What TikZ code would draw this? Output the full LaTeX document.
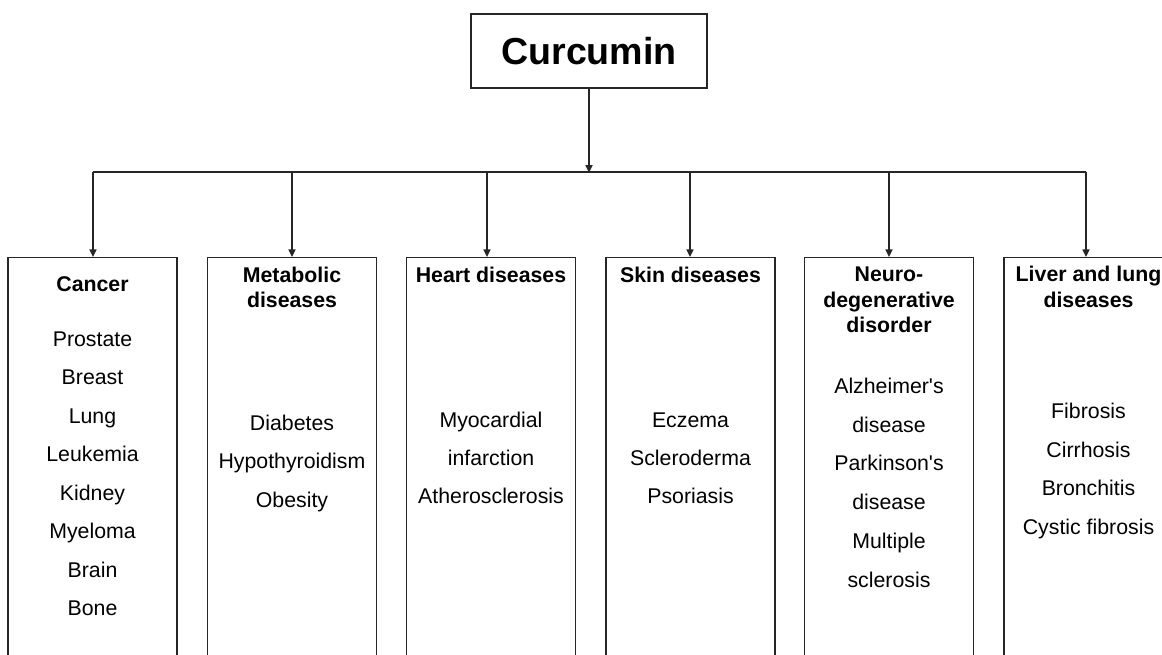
\documentclass[tikz,border=0pt]{standalone}
\usepackage{fontspec}
\setmainfont{Liberation Sans}
\usetikzlibrary{arrows.meta}
\begin{document}
\begin{tikzpicture}[x=1pt,y=-1pt,
  line/.style={draw=black!85, line width=1.3pt},
  arr/.style={line, -{Triangle[length=7.5pt,width=7pt]}},
  titlebox/.style={line, rectangle, minimum width=236pt, minimum height=74pt, inner sep=0pt, font=\fontsize{37.6}{44}\selectfont\bfseries},
  colbox/.style={line, rectangle, minimum width=169pt, minimum height=440pt, inner sep=0pt, anchor=north},
  head/.style={anchor=base, inner sep=0pt, font=\fontsize{21.3}{25}\selectfont\bfseries},
  item/.style={anchor=base, inner sep=0pt, font=\fontsize{21.3}{25}\selectfont}]
\useasboundingbox (0,0) rectangle (1162,655);
\clip (0,0) rectangle (1162,655);

\node[titlebox] (cur) at (589,51) {Curcumin};

\foreach \n/\cx in {1/92.5,2/292,3/491,4/690.5,5/889,6/1088.5}
  \node[colbox] (box\n) at (\cx,257) {};

\path (cur.south) ++(0,84) coordinate (bus);
\coordinate (d1) at (93,172);
\coordinate (d2) at (292,172);
\coordinate (d3) at (487,172);
\coordinate (d4) at (690,172);
\coordinate (d5) at (889,172);
\coordinate (d6) at (1086,172);

\draw[line] (d1) -- (d6);
\draw[arr] (cur.south) -- (bus);
\foreach \n in {1,...,6}
  \draw[arr] (d\n) -- (d\n |- box\n.north);

% Cancer
\node[head] (h1-1) at (92.5,291) {Cancer};
\foreach \t/\y [count=\i] in {Prostate/346,Breast/384,Lung/423,Leukemia/461,Kidney/500,Myeloma/538,Brain/577,Bone/615}
  \node[item] (t1-\i) at (92.5,\y) {\t};

% Metabolic
\node[head] (h2-1) at (292,282) {Metabolic};
\node[head] (h2-2) at (292,307) {diseases};
\foreach \t/\y [count=\i] in {Diabetes/430,Hypothyroidism/468,Obesity/507}
  \node[item] (t2-\i) at (292,\y) {\t};

% Heart
\node[head] (h3-1) at (491,282) {Heart diseases};
\foreach \t/\y [count=\i] in {Myocardial/427,infarction/465,Atherosclerosis/503}
  \node[item] (t3-\i) at (491,\y) {\t};

% Skin
\node[head] (h4-1) at (690.5,282) {Skin diseases};
\foreach \t/\y [count=\i] in {Eczema/427,Scleroderma/465,Psoriasis/503}
  \node[item] (t4-\i) at (690.5,\y) {\t};

% Neuro
\node[head] (h5-1) at (889,281) {Neuro-};
\node[head] (h5-2) at (889,307) {degenerative};
\node[head] (h5-3) at (889,332) {disorder};
\foreach \t/\y [count=\i] in {Alzheimer\textquotesingle s/393,disease/432,Parkinson\textquotesingle s/470,disease/509,Multiple/548,sclerosis/587}
  \node[item] (t5-\i) at (889,\y) {\t};

% Liver and lung
\node[head] (h6-1) at (1088.5,281) {Liver and lung};
\node[head] (h6-2) at (1088.5,307) {diseases};
\foreach \t/\y [count=\i] in {Fibrosis/418,Cirrhosis/457,Bronchitis/495,Cystic fibrosis/534}
  \node[item] (t6-\i) at (1088.5,\y) {\t};
\end{tikzpicture}
\end{document}
